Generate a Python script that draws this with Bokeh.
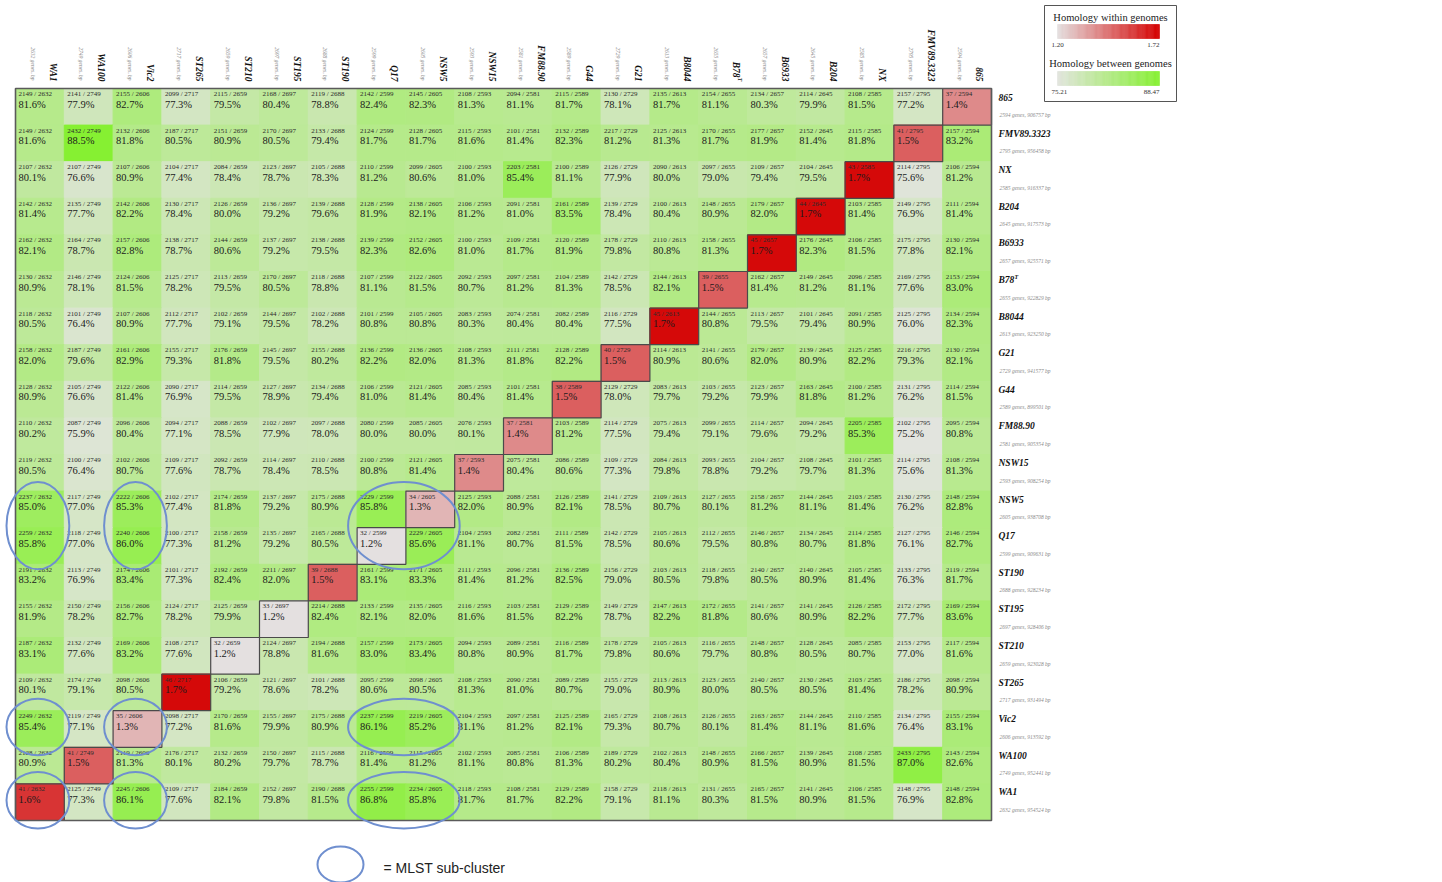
import math
from bokeh.plotting import figure
from bokeh.models import Range1d, ColumnDataSource
from bokeh.core.properties import value
from bokeh.embed import file_html
from bokeh.resources import INLINE

# ---------------------------------------------------------------- data
col_strains = ["WA1", "WA100", "Vic2", "ST265", "ST210", "ST195", "ST190", "Q17",
               "NSW5", "NSW15", "FM88.90", "G44", "G21", "B8044", "B78", "B6933",
               "B204", "NX", "FMV89.3323", "865"]
row_strains = list(reversed(col_strains))

gene_count = [2632, 2749, 2606, 2717, 2659, 2697, 2688, 2599, 2605, 2593,
              2581, 2589, 2729, 2613, 2655, 2657, 2645, 2585, 2795, 2594]
genome_bp = [954524, 952441, 913592, 931494, 923028, 928406, 928234, 909631, 938708, 908254,
             905354, 899501, 941577, 923250, 922829, 925571, 917573, 916337, 956458, 906757]

# shared genes per row strain (columns in col_strains order)
shared_genes = [
    [2149, 2141, 2155, 2099, 2115, 2168, 2119, 2142, 2145, 2108, 2094, 2115, 2130, 2135, 2154, 2134, 2114, 2108, 2157, 37],
    [2149, 2432, 2132, 2187, 2151, 2170, 2133, 2124, 2128, 2115, 2101, 2132, 2217, 2125, 2170, 2177, 2152, 2115, 41, 2157],
    [2107, 2107, 2107, 2104, 2084, 2123, 2105, 2110, 2099, 2100, 2203, 2100, 2126, 2090, 2097, 2109, 2104, 43, 2114, 2106],
    [2142, 2135, 2142, 2130, 2126, 2136, 2139, 2128, 2138, 2106, 2091, 2161, 2139, 2100, 2148, 2179, 44, 2103, 2149, 2111],
    [2162, 2164, 2157, 2138, 2144, 2137, 2138, 2139, 2152, 2100, 2109, 2120, 2178, 2110, 2158, 45, 2176, 2106, 2175, 2130],
    [2130, 2146, 2124, 2125, 2113, 2170, 2118, 2107, 2122, 2092, 2097, 2104, 2142, 2144, 39, 2162, 2149, 2096, 2169, 2153],
    [2118, 2101, 2107, 2112, 2102, 2144, 2102, 2101, 2105, 2083, 2074, 2082, 2116, 45, 2144, 2113, 2101, 2091, 2125, 2134],
    [2158, 2187, 2161, 2155, 2176, 2145, 2155, 2136, 2136, 2108, 2111, 2128, 40, 2114, 2141, 2179, 2139, 2125, 2216, 2130],
    [2128, 2105, 2122, 2090, 2114, 2127, 2134, 2106, 2121, 2085, 2101, 38, 2129, 2083, 2103, 2123, 2163, 2100, 2131, 2114],
    [2110, 2087, 2096, 2094, 2088, 2102, 2097, 2080, 2085, 2076, 37, 2103, 2114, 2075, 2099, 2114, 2094, 2205, 2102, 2095],
    [2119, 2100, 2102, 2109, 2092, 2114, 2110, 2100, 2121, 37, 2075, 2086, 2109, 2084, 2093, 2104, 2108, 2101, 2114, 2108],
    [2237, 2117, 2222, 2102, 2174, 2137, 2175, 2229, 34, 2125, 2088, 2126, 2141, 2109, 2127, 2158, 2144, 2103, 2130, 2148],
    [2259, 2118, 2240, 2100, 2158, 2135, 2165, 32, 2229, 2104, 2082, 2111, 2142, 2105, 2112, 2146, 2134, 2114, 2127, 2146],
    [2191, 2113, 2174, 2101, 2192, 2211, 39, 2161, 2171, 2111, 2096, 2136, 2156, 2103, 2118, 2140, 2140, 2105, 2133, 2119],
    [2155, 2150, 2156, 2124, 2125, 33, 2214, 2133, 2135, 2116, 2103, 2129, 2149, 2147, 2172, 2141, 2141, 2126, 2172, 2169],
    [2187, 2132, 2169, 2108, 32, 2124, 2194, 2157, 2173, 2094, 2089, 2116, 2178, 2105, 2116, 2148, 2128, 2085, 2153, 2117],
    [2109, 2174, 2098, 46, 2106, 2121, 2101, 2095, 2098, 2108, 2090, 2089, 2155, 2113, 2123, 2140, 2130, 2103, 2186, 2098],
    [2249, 2119, 35, 2098, 2170, 2155, 2175, 2237, 2219, 2104, 2097, 2125, 2165, 2108, 2126, 2163, 2144, 2110, 2134, 2155],
    [2128, 41, 2119, 2176, 2132, 2150, 2115, 2116, 2115, 2102, 2085, 2106, 2189, 2102, 2148, 2166, 2139, 2108, 2433, 2143],
    [41, 2125, 2245, 2109, 2184, 2152, 2190, 2255, 2234, 2118, 2108, 2129, 2158, 2118, 2131, 2165, 2141, 2106, 2148, 2148],
]

homology_pct = [
    [81.6, 77.9, 82.7, 77.3, 79.5, 80.4, 78.8, 82.4, 82.3, 81.3, 81.1, 81.7, 78.1, 81.7, 81.1, 80.3, 79.9, 81.5, 77.2, 1.4],
    [81.6, 88.5, 81.8, 80.5, 80.9, 80.5, 79.4, 81.7, 81.7, 81.6, 81.4, 82.3, 81.2, 81.3, 81.7, 81.9, 81.4, 81.8, 1.5, 83.2],
    [80.1, 76.6, 80.9, 77.4, 78.4, 78.7, 78.3, 81.2, 80.6, 81.0, 85.4, 81.1, 77.9, 80.0, 79.0, 79.4, 79.5, 1.7, 75.6, 81.2],
    [81.4, 77.7, 82.2, 78.4, 80.0, 79.2, 79.6, 81.9, 82.1, 81.2, 81.0, 83.5, 78.4, 80.4, 80.9, 82.0, 1.7, 81.4, 76.9, 81.4],
    [82.1, 78.7, 82.8, 78.7, 80.6, 79.2, 79.5, 82.3, 82.6, 81.0, 81.7, 81.9, 79.8, 80.8, 81.3, 1.7, 82.3, 81.5, 77.8, 82.1],
    [80.9, 78.1, 81.5, 78.2, 79.5, 80.5, 78.8, 81.1, 81.5, 80.7, 81.2, 81.3, 78.5, 82.1, 1.5, 81.4, 81.2, 81.1, 77.6, 83.0],
    [80.5, 76.4, 80.9, 77.7, 79.1, 79.5, 78.2, 80.8, 80.8, 80.3, 80.4, 80.4, 77.5, 1.7, 80.8, 79.5, 79.4, 80.9, 76.0, 82.3],
    [82.0, 79.6, 82.9, 79.3, 81.8, 79.5, 80.2, 82.2, 82.0, 81.3, 81.8, 82.2, 1.5, 80.9, 80.6, 82.0, 80.9, 82.2, 79.3, 82.1],
    [80.9, 76.6, 81.4, 76.9, 79.5, 78.9, 79.4, 81.0, 81.4, 80.4, 81.4, 1.5, 78.0, 79.7, 79.2, 79.9, 81.8, 81.2, 76.2, 81.5],
    [80.2, 75.9, 80.4, 77.1, 78.5, 77.9, 78.0, 80.0, 80.0, 80.1, 1.4, 81.2, 77.5, 79.4, 79.1, 79.6, 79.2, 85.3, 75.2, 80.8],
    [80.5, 76.4, 80.7, 77.6, 78.7, 78.4, 78.5, 80.8, 81.4, 1.4, 80.4, 80.6, 77.3, 79.8, 78.8, 79.2, 79.7, 81.3, 75.6, 81.3],
    [85.0, 77.0, 85.3, 77.4, 81.8, 79.2, 80.9, 85.8, 1.3, 82.0, 80.9, 82.1, 78.5, 80.7, 80.1, 81.2, 81.1, 81.4, 76.2, 82.8],
    [85.8, 77.0, 86.0, 77.3, 81.2, 79.2, 80.5, 1.2, 85.6, 81.1, 80.7, 81.5, 78.5, 80.6, 79.5, 80.8, 80.7, 81.8, 76.1, 82.7],
    [83.2, 76.9, 83.4, 77.3, 82.4, 82.0, 1.5, 83.1, 83.3, 81.4, 81.2, 82.5, 79.0, 80.5, 79.8, 80.5, 80.9, 81.4, 76.3, 81.7],
    [81.9, 78.2, 82.7, 78.2, 79.9, 1.2, 82.4, 82.1, 82.0, 81.6, 81.5, 82.2, 78.7, 82.2, 81.8, 80.6, 80.9, 82.2, 77.7, 83.6],
    [83.1, 77.6, 83.2, 77.6, 1.2, 78.8, 81.6, 83.0, 83.4, 80.8, 80.9, 81.7, 79.8, 80.6, 79.7, 80.8, 80.5, 80.7, 77.0, 81.6],
    [80.1, 79.1, 80.5, 1.7, 79.2, 78.6, 78.2, 80.6, 80.5, 81.3, 81.0, 80.7, 79.0, 80.9, 80.0, 80.5, 80.5, 81.4, 78.2, 80.9],
    [85.4, 77.1, 1.3, 77.2, 81.6, 79.9, 80.9, 86.1, 85.2, 81.1, 81.2, 82.1, 79.3, 80.7, 80.1, 81.4, 81.1, 81.6, 76.4, 83.1],
    [80.9, 1.5, 81.3, 80.1, 80.2, 79.7, 78.7, 81.4, 81.2, 81.1, 80.8, 81.3, 80.2, 80.4, 80.9, 81.5, 80.9, 81.5, 87.0, 82.6],
    [1.6, 77.3, 86.1, 77.6, 82.1, 79.8, 81.5, 86.8, 85.8, 81.7, 81.7, 82.2, 79.1, 81.1, 80.3, 81.5, 80.9, 81.5, 76.9, 82.8],
]

within_range = [1.20, 1.72]      # colour scale for self comparisons
between_range = [75.21, 88.47]   # colour scale for pairwise comparisons

# MLST sub-clusters: (column group, row group)
mlst_col_groups = [["WA1"], ["Vic2"], ["Q17", "NSW5"]]
mlst_row_groups = [["NSW5", "Q17"], ["Vic2"], ["WA1"]]

# ---------------------------------------------------------------- layout
W, H = 1442, 882
CELL_W, CELL_H = 48.8, 36.6
GRID_X0, GRID_Y0 = 15, 88
SERIF = value("Liberation Serif")
SANS = value("Liberation Sans")


def gx(px):
    return (px - GRID_X0) / CELL_W


def gy(py):
    return (py - GRID_Y0) / CELL_H


def mix(c0, c1, t):
    t = min(max(t, 0.0), 1.0)
    return "#%02x%02x%02x" % tuple(int(round(a + (b - a) * t)) for a, b in zip(c0, c1))


GREEN_LO, GREEN_HI = (226, 228, 222), (134, 240, 50)
RED_LO, RED_HI = (228, 224, 224), (212, 0, 0)


def between_color(v):
    return mix(GREEN_LO, GREEN_HI, (v - between_range[0]) / (between_range[1] - between_range[0]))


def within_color(v):
    return mix(RED_LO, RED_HI, (v - within_range[0]) / (within_range[1] - within_range[0]))


p = figure(width=W, height=H, output_backend="svg", toolbar_location=None,
           x_range=Range1d(gx(0), gx(W)), y_range=Range1d(gy(H), gy(0)),
           x_axis_location=None, y_axis_location=None, min_border=0,
           background_fill_color="white", border_fill_color="white")
p.grid.visible = False
p.outline_line_color = None

# ---------------------------------------------------------------- cells
cells = dict(left=[], right=[], top=[], bottom=[], color=[], frac=[], pct=[],
             tx=[], ty_frac=[], ty_pct=[])
self_cells = dict(left=[], right=[], top=[], bottom=[], color=[])
for r, rname in enumerate(row_strains):
    for c, cname in enumerate(col_strains):
        v = homology_pct[r][c]
        is_self = rname == cname
        col = within_color(v) if is_self else between_color(v)
        cells["left"].append(c)
        cells["right"].append(c + 1)
        cells["top"].append(r)
        cells["bottom"].append(r + 1)
        cells["color"].append(col)
        cells["frac"].append("%d / %d" % (shared_genes[r][c], gene_count[c]))
        cells["pct"].append("%.1f%%" % v)
        cells["tx"].append(c + 3 / CELL_W)
        cells["ty_frac"].append(r + 5.5 / CELL_H)
        cells["ty_pct"].append(r + 15.5 / CELL_H)
        if is_self:
            for k in ("left", "right", "top", "bottom", "color"):
                self_cells[k].append(cells[k][-1])

src = ColumnDataSource(cells)
p.quad(left="left", right="right", top="top", bottom="bottom", source=src,
       fill_color="color", line_color="color", line_width=1)
p.quad(left="left", right="right", top="top", bottom="bottom",
       source=ColumnDataSource(self_cells), fill_color="color",
       line_color="#4a4a4a", line_width=1.2)
p.text(x="tx", y="ty_frac", text="frac", source=src, text_font=SERIF,
       text_font_size="7px", text_color="#2b2b2b", text_baseline="middle")
p.text(x="tx", y="ty_pct", text="pct", source=src, text_font=SERIF,
       text_font_size="10.5px", text_color="#1a1a1a", text_baseline="middle")

# outer frame of the matrix
n = len(col_strains)
p.quad(left=[0], right=[n], top=[0], bottom=[n], fill_color=None,
       line_color="#5a5a5a", line_width=1.6)

# ---------------------------------------------------------------- column headers
hdr_names = [("B78" if s == "B78" else s) for s in col_strains]
p.text(x=[c + 37 / CELL_W for c in range(n)],
       y=[gy(81) - (4 / CELL_H if s == "B78" else 0) for s in col_strains],
       text=hdr_names, angle=-math.pi / 2, text_align="right", text_baseline="middle",
       text_font=SERIF, text_font_style="bold italic", text_font_size="9.5px",
       text_color="#111111")
b78 = col_strains.index("B78")
p.text(x=[b78 + 41 / CELL_W], y=[gy(81)], text=["T"], angle=-math.pi / 2,
       text_align="right", text_baseline="middle", text_font=SERIF,
       text_font_style="bold italic", text_font_size="6px", text_color="#111111")
p.text(x=[c + 17 / CELL_W for c in range(n)], y=[gy(80)] * n,
       text=["%d genes, bp" % g for g in gene_count], angle=-math.pi / 2,
       text_align="right", text_baseline="middle", text_font=SERIF,
       text_font_style="italic", text_font_size="5.5px", text_color="#8a8a8a")

# ---------------------------------------------------------------- row labels
row_genes = list(reversed(gene_count))
row_bp = list(reversed(genome_bp))
p.text(x=[gx(998)] * n, y=[r + 8.5 / CELL_H for r in range(n)], text=row_strains,
       text_baseline="middle", text_font=SERIF, text_font_style="bold italic",
       text_font_size="9.5px", text_color="#111111")
rb78 = row_strains.index("B78")
p.text(x=[gx(1014)], y=[rb78 + 5.5 / CELL_H], text=["T"], text_baseline="middle",
       text_font=SERIF, text_font_style="bold italic", text_font_size="6px",
       text_color="#111111")
p.text(x=[gx(999)] * n, y=[r + 26 / CELL_H for r in range(n)],
       text=["%d genes, %d bp" % (g, b) for g, b in zip(row_genes, row_bp)],
       text_baseline="middle", text_font=SERIF, text_font_style="italic",
       text_font_size="5.5px", text_color="#8a8a8a")

# ---------------------------------------------------------------- MLST ellipses
ex, ey, ew, eh = [], [], [], []
for rg in mlst_row_groups:
    rows = [row_strains.index(s) for s in rg]
    for cg in mlst_col_groups:
        cols = [col_strains.index(s) for s in cg]
        ex.append((min(cols) + max(cols) + 1) / 2 - 2 / CELL_W)
        ey.append((min(rows) + max(rows) + 1) / 2 - 2 / CELL_H)
        ew.append(len(cols) + 14 / CELL_W)
        eh.append(len(rows) + (14 if len(rows) > 1 else 20) / CELL_H)
p.ellipse(x=ex, y=ey, width=ew, height=eh, fill_color=None,
          line_color="#6f8fcf", line_width=2)

p.ellipse(x=[gx(340)], y=[gy(864)], width=[46 / CELL_W], height=[36 / CELL_H],
          fill_color=None, line_color="#6f8fcf", line_width=2)
p.text(x=[gx(383)], y=[gy(867)], text=["= MLST sub-cluster"], text_baseline="middle",
       text_font=SANS, text_font_size="14px", text_color="#222222")

# ---------------------------------------------------------------- colour legend
p.quad(left=[gx(1044)], right=[gx(1176)], top=[gy(5)], bottom=[gy(101)],
       fill_color="white", line_color="#555555", line_width=1)
BAR_L, BAR_R, STEPS = 1057, 1159, 90
step_w = (BAR_R - BAR_L) / STEPS
for (title, rng, cfun, title_y, bar_top, lab_y) in [
        ("Homology within genomes", within_range, within_color, 17, 24, 44),
        ("Homology between genomes", between_range, between_color, 63, 71, 91)]:
    p.text(x=[gx(1110)], y=[gy(title_y)], text=[title], text_align="center",
           text_baseline="middle", text_font=SERIF, text_font_size="10.5px",
           text_color="#222222")
    vals = [rng[0] + (rng[1] - rng[0]) * (i + 0.5) / STEPS for i in range(STEPS)]
    p.quad(left=[gx(BAR_L + i * step_w) for i in range(STEPS)],
           right=[gx(BAR_L + (i + 1) * step_w) for i in range(STEPS)],
           top=[gy(bar_top)] * STEPS, bottom=[gy(bar_top + 14)] * STEPS,
           fill_color=[cfun(v) for v in vals], line_color=[cfun(v) for v in vals],
           line_width=0.6)
    p.text(x=[gx(BAR_L - 6), gx(BAR_R)], y=[gy(lab_y)] * 2,
           text=["%.2f" % rng[0], "%.2f" % rng[1]], text_align=["left", "right"],
           text_baseline="middle", text_font=SERIF, text_font_size="7px",
           text_color="#333333")

open("out.html", "w").write(file_html(p, INLINE))
